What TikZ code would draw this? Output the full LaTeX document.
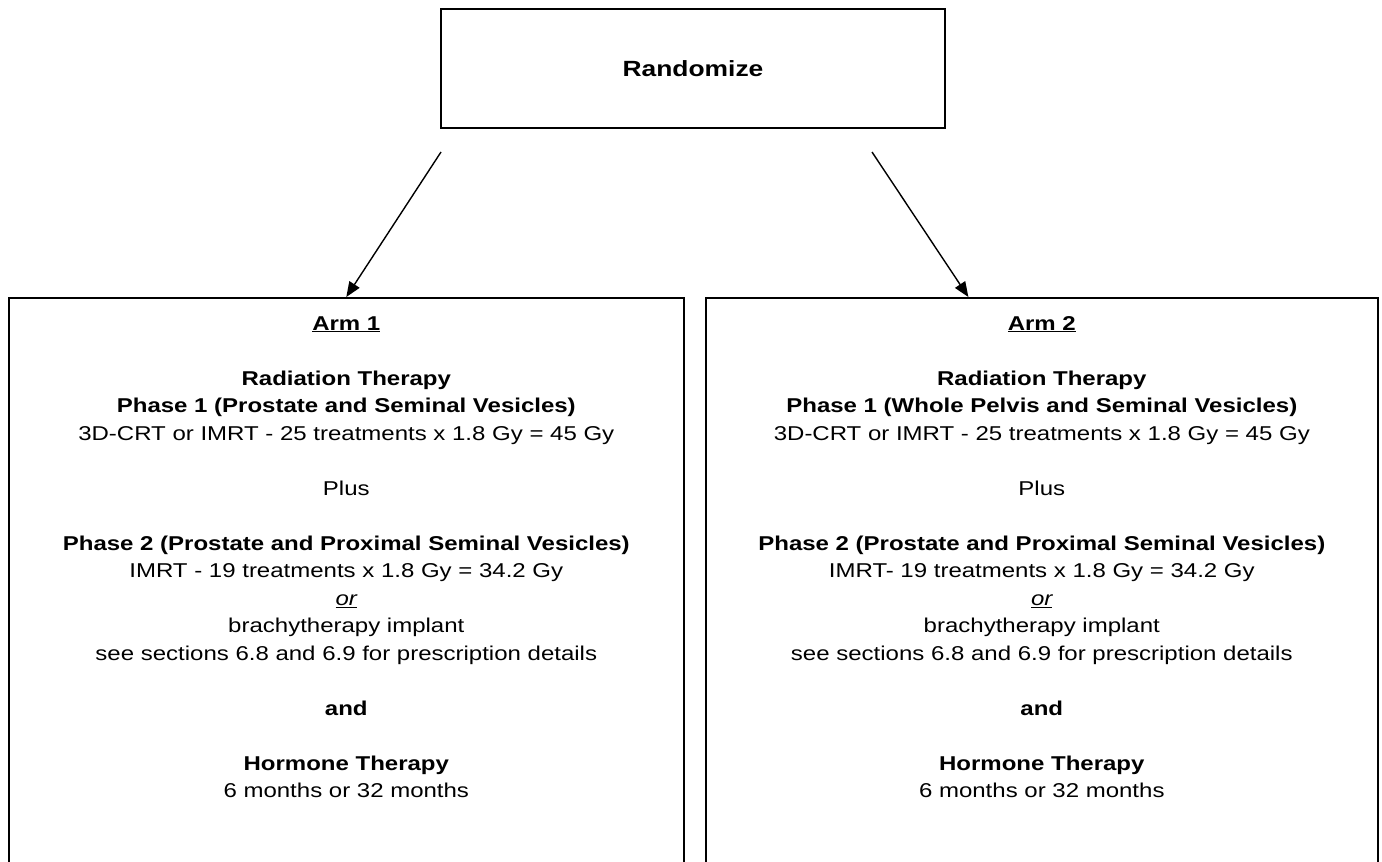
\documentclass[tikz,border=0pt]{standalone}
\usepackage{fontspec}
\setmainfont{Liberation Sans}[FakeStretch=1.2]
\usetikzlibrary{arrows.meta,calc}
\begin{document}
\begin{tikzpicture}[x=1pt,y=-1pt,
  box/.style={draw, line width=1.6pt, rectangle, inner sep=0pt},
  body/.style={align=center, inner sep=0pt, anchor=north, font=\fontsize{20}{27.5}\selectfont},
  arr/.style={line width=1.4pt, -{Triangle[length=15pt,width=12pt]}}]
\useasboundingbox (0,0) rectangle (1382,862);

\node[box, minimum width=504pt, minimum height=119pt, font=\bfseries\fontsize{22}{26}\selectfont] (rand) at (693,68.5) {Randomize};

\node[box, anchor=north west, minimum width=675pt, minimum height=590pt] (arm1) at (8,297) {};
\node[box, anchor=north west, minimum width=672pt, minimum height=590pt] (arm2) at (705,297) {};

\node[body] (t1) at (arm1.north) {\rule{0pt}{33pt}\textbf{\underline{Arm 1}}\\[27.5pt]
\textbf{Radiation Therapy}\\
\textbf{Phase 1 (Prostate and Seminal Vesicles)}\\
3D-CRT or IMRT - 25 treatments x 1.8 Gy = 45 Gy\\[27.5pt]
Plus\\[27.5pt]
\textbf{Phase 2 (Prostate and Proximal Seminal Vesicles)}\\
IMRT - 19 treatments x 1.8 Gy = 34.2 Gy\\
\textit{\underline{or}}\\
brachytherapy implant\\
see sections 6.8 and 6.9 for prescription details\\[27.5pt]
\textbf{and}\\[27.5pt]
\textbf{Hormone Therapy}\\
6 months or 32 months};

\node[body] (t2) at (arm2.north) {\rule{0pt}{33pt}\textbf{\underline{Arm 2}}\\[27.5pt]
\textbf{Radiation Therapy}\\
\textbf{Phase 1 (Whole Pelvis and Seminal Vesicles)}\\
3D-CRT or IMRT - 25 treatments x 1.8 Gy = 45 Gy\\[27.5pt]
Plus\\[27.5pt]
\textbf{Phase 2 (Prostate and Proximal Seminal Vesicles)}\\
IMRT- 19 treatments x 1.8 Gy = 34.2 Gy\\
\textit{\underline{or}}\\
brachytherapy implant\\
see sections 6.8 and 6.9 for prescription details\\[27.5pt]
\textbf{and}\\[27.5pt]
\textbf{Hormone Therapy}\\
6 months or 32 months};

\coordinate (s1) at (441,152);
\coordinate (s2) at (872,152);
\draw[arr] (s1) -- (arm1.north);
\draw[arr] (s2) -- ($(arm2.north west)!0.391!(arm2.north east)$);
\end{tikzpicture}
\end{document}
